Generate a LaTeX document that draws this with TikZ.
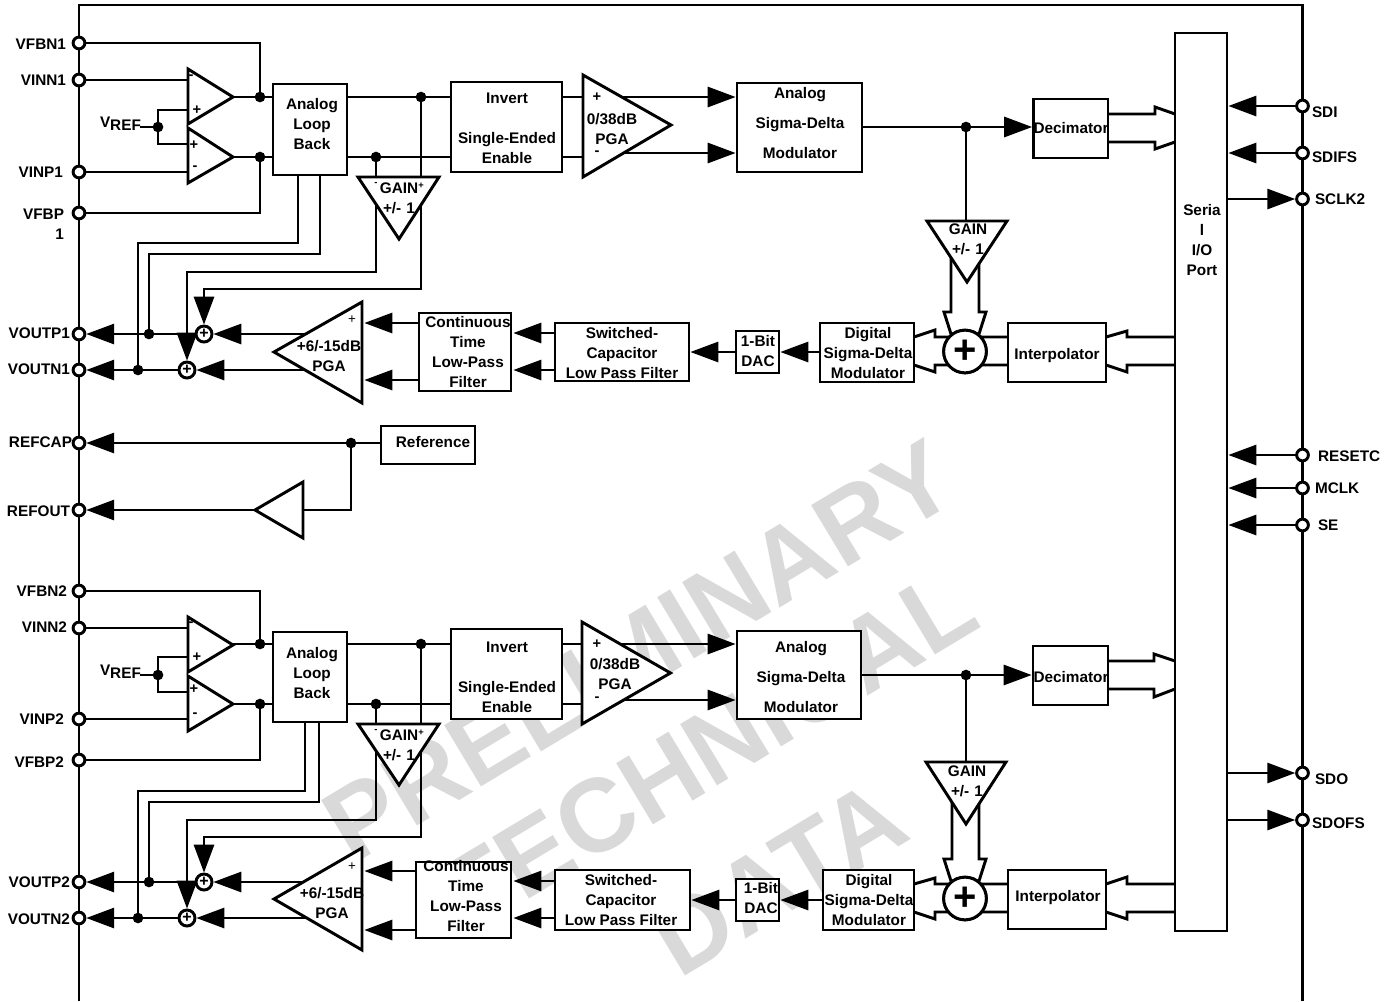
\documentclass[tikz,border=0pt]{standalone}
\usepackage{fontspec}
\setmainfont{Liberation Sans}
\usetikzlibrary{arrows.meta,calc}
\tikzset{
  wire/.style={line width=2.2pt,line join=miter},
  arr/.style={wire,-{Triangle[length=21pt,width=15pt]},shorten >=1pt},
  blockbox/.style={draw,fill=white,line width=2.2pt,inner sep=0pt,outer sep=0pt},
  tri/.style={draw,fill=white,line width=2.2pt,line join=miter},
  pin/.style={circle,draw,fill=white,line width=2.2pt,inner sep=0pt,outer sep=0pt,minimum size=8.8pt},
  dot/.style={circle,fill=black,inner sep=0pt,outer sep=0pt,minimum size=8pt},
  adder/.style={circle,draw,fill=white,line width=2.2pt,inner sep=0pt,outer sep=0pt,minimum size=12pt,font=\fontsize{12}{12}\selectfont\bfseries},
  bigadder/.style={circle,draw,fill=white,line width=2.2pt,inner sep=0pt,outer sep=0pt,minimum size=32pt,font=\fontsize{30}{30}\selectfont\bfseries},
  lbl/.style={inner sep=0pt,outer sep=0pt,align=center,font=\fontsize{11.5}{15}\selectfont\bfseries},
  lbll/.style={lbl,anchor=east},
  lblr/.style={lbl,anchor=west},
  sign/.style={inner sep=0pt,outer sep=0pt,font=\fontsize{11}{11}\selectfont\bfseries},
  tick/.style={inner sep=0pt,outer sep=0pt,font=\fontsize{7}{7}\selectfont\bfseries},
  thin sign/.style={inner sep=0pt,outer sep=0pt,font=\fontsize{10}{10}\selectfont},
  water/.style={inner sep=0pt,outer sep=0pt,text=black!15,rotate=31,font=\fontsize{78}{78}\selectfont\bfseries}
}
\newcommand\boxnode[5]{\pgfmathsetmacro\bxw{(#4-#2)*0.75}\pgfmathsetmacro\bxh{(#5-#3)*0.75}%
  \node[blockbox,minimum width=\bxw pt,minimum height=\bxh pt] (#1) at ({(#2+#4)/2},{(#3+#5)/2}) {};}
\begin{document}
\begin{tikzpicture}[x=0.75pt,y=-0.75pt]
\fill[white] (0,0) rectangle (1390,1001);
\useasboundingbox (0,0) rectangle (1390,1001);
% watermark
\node[water] (wm1) at (639,651) {PRELIMINARY};
\node[water] (wm2) at (708,750) {TECHNICAL};
\node[water] (wm3) at (778,878) {DATA};
% frame
\coordinate (fa) at (79,1001); \coordinate (fb) at (79,5); \coordinate (fc) at (1302.5,5); \coordinate (fd) at (1302.5,1001);
\draw[wire] (fa) -- (fb) -- (fc) -- (fd);
% pins left
\foreach \n/\y in {vfbn1/43,vinn1/80,vinp1/172,vfbp1/213,voutp1/334,voutn1/370,refcap/443,refout/510,vfbn2/591,vinn2/628,vinp2/719,vfbp2/760,voutp2/882,voutn2/918}
  \node[pin] (\n) at (79,\y) {};
% pins right
\foreach \n/\y in {sdi/106,sdifs/153,sclk2/199,resetc/455,mclk/488,se/525,sdo/773,sdofs/820}
  \node[pin] (\n) at (1302.5,\y) {};
% blocks, channel 1
\boxnode{alb1}{273}{84}{347}{175}
\boxnode{inv1}{451}{82}{562}{172}
\boxnode{asd1}{737}{83}{862}{172}
\boxnode{dec1}{1033.5}{99}{1108}{158}
\boxnode{ct1}{419}{313}{511}{391}
\boxnode{sc1}{555}{323}{689}{381}
\boxnode{dac1}{736}{331}{779}{373}
\boxnode{dsd1}{820}{323}{914}{382}
\boxnode{itp1}{1008}{323}{1106}{382}
% blocks, channel 2
\boxnode{alb2}{273}{632}{347}{722}
\boxnode{inv2}{451}{629}{562}{719}
\boxnode{asd2}{737}{631}{861}{719}
\boxnode{dec2}{1033}{646}{1108}{705}
\boxnode{ct2}{416}{862}{511}{938}
\boxnode{sc2}{555}{870}{690}{930}
\boxnode{dac2}{736}{879}{779}{921}
\boxnode{dsd2}{823}{870}{914}{930}
\boxnode{itp2}{1008}{870}{1106}{929}
% shared blocks
\boxnode{ref}{381}{426}{475}{464}
\boxnode{ser}{1175}{33}{1227}{931}
% adders
\node[adder] (addp1) at (204,334) {+};
\node[adder] (addn1) at (187,370) {+};
\node[adder] (addp2) at (204,882) {+};
\node[adder] (addn2) at (187,918) {+};
\node[bigadder] (sum1) at (965,351.5) {+};
\node[bigadder] (sum2) at (965,898.5) {+};
% junctions
\foreach \n/\x/\y in {j1/260/97,j2/260/157,j3/421/97,j4/376/157,j5/138/370,j6/149/334,j7/966/127,jv1/158/127,
  k1/260/644,k2/260/704,k3/421/644,k4/376/704,k5/138/918,k6/149/882,k7/966/675,kv1/158/675,jr/351/443}
  \node[dot] (\n) at (\x,\y) {};
% port coordinates, channel 1
\foreach \n/\x/\y in {oa1n/188/80,oa1p/188/110,oa1o/233/97,oa2p/188/144,oa2n/188/172,oa2o/233/157,
  c1/187/272,c2/204/289,c3/298/243,c4/138/243,c5/320/254,c6/149/254,
  pga1p/583/97,pga1n/583/157,pga1a/615/97,pga1b/615/153,
  ta1/512/333,ta2/512/370,tb1/363/323,tb2/363/380,tc1/305/334,tc2/305/370,
  g2t/966/221,vr1/140/127,rbi/303/510,rbo/255/510,
% channel 2
  ob1n/188/628,ob1p/188/657,ob1o/233/644,ob2p/188/692,ob2n/188/719,ob2o/233/704,
  d1/187/820,d2/204/837,d3/305/791,d4/138/791,d5/319/802,d6/149/802,
  pgb1p/583/644,pgb1n/583/704,pgb1a/615/644,pgb1b/615/700,
  ua1/512/881,ua2/512/918,ub1/363/871,ub2/363/930,uc1/305/882,uc2/305/918,
  h2t/966/762,vs1/140/675}
  \coordinate (\n) at (\x,\y);
% wires, channel 1
\draw[wire] (vfbn1.east) -| (j1);
\draw[wire] (vfbp1.east) -| (j2);
\draw[wire] (vinn1.east) -- (oa1n);
\draw[wire] (vinp1.east) -- (oa2n);
\draw[wire] (oa1o) -- (j1) -- (j1 -| alb1.west);
\draw[wire] (oa2o) -- (j2) -- (j2 -| alb1.west);
\draw[wire] (vr1) -- (jv1);
\draw[wire] (oa1p) -| (jv1) |- (oa2p);
\draw[wire] (j3 -| alb1.east) -- (j3) -- (j3 -| inv1.west);
\draw[wire] (j4 -| alb1.east) -- (j4) -- (j4 -| inv1.west);
\draw[wire] (inv1.east |- pga1p) -- (pga1p);
\draw[wire] (inv1.east |- pga1n) -- (pga1n);
\draw[arr] (j4) |- (c1) -- (addn1.north);
\draw[arr] (j3) |- (c2) -- (addp1.north);
\draw[wire] (alb1.south -| c3) -- (c3) -- (c4) -- (j5);
\draw[wire] (alb1.south -| c5) -- (c5) -- (c6) -- (j6);
\draw[arr] (pga1a) -- (asd1.west |- pga1a);
\draw[arr] (pga1b) -- (asd1.west |- pga1b);
\draw[wire] (asd1.east |- j7) -- (j7);
\draw[arr] (j7) -- (dec1.west |- j7);
\draw[wire] (j7) -- (g2t);
\draw[arr] (dsd1.west |- dac1.east) -- (dac1.east);
\draw[arr] (dac1.west) -- (sc1.east |- dac1.west);
\draw[arr] (sc1.west |- ta1) -- (ta1);
\draw[arr] (sc1.west |- ta2) -- (ta2);
\draw[arr] (ct1.west |- tb1) -- (tb1);
\draw[arr] (ct1.west |- tb2) -- (tb2);
\draw[arr] (tc1) -- (addp1.east);
\draw[arr] (tc2) -- (addn1.east);
\draw[arr] (addp1.west) -- (j6) -- (voutp1.east);
\draw[arr] (addn1.west) -- (j5) -- (voutn1.east);
% reference
\draw[arr] (ref.west |- jr) -- (jr) -- (refcap.east);
\draw[wire] (jr) |- (rbi);
\draw[arr] (rbo) -- (refout.east);
% wires, channel 2
\draw[wire] (vfbn2.east) -| (k1);
\draw[wire] (vfbp2.east) -| (k2);
\draw[wire] (vinn2.east) -- (ob1n);
\draw[wire] (vinp2.east) -- (ob2n);
\draw[wire] (ob1o) -- (k1) -- (k1 -| alb2.west);
\draw[wire] (ob2o) -- (k2) -- (k2 -| alb2.west);
\draw[wire] (vs1) -- (kv1);
\draw[wire] (ob1p) -| (kv1) |- (ob2p);
\draw[wire] (k3 -| alb2.east) -- (k3) -- (k3 -| inv2.west);
\draw[wire] (k4 -| alb2.east) -- (k4) -- (k4 -| inv2.west);
\draw[wire] (inv2.east |- pgb1p) -- (pgb1p);
\draw[wire] (inv2.east |- pgb1n) -- (pgb1n);
\draw[arr] (k4) |- (d1) -- (addn2.north);
\draw[arr] (k3) |- (d2) -- (addp2.north);
\draw[wire] (alb2.south -| d3) -- (d3) -- (d4) -- (k5);
\draw[wire] (alb2.south -| d5) -- (d5) -- (d6) -- (k6);
\draw[arr] (pgb1a) -- (asd2.west |- pgb1a);
\draw[arr] (pgb1b) -- (asd2.west |- pgb1b);
\draw[wire] (asd2.east |- k7) -- (k7);
\draw[arr] (k7) -- (dec2.west |- k7);
\draw[wire] (k7) -- (h2t);
\draw[arr] (dsd2.west |- dac2.east) -- (dac2.east);
\draw[arr] (dac2.west) -- (sc2.east |- dac2.west);
\draw[arr] (sc2.west |- ua1) -- (ua1);
\draw[arr] (sc2.west |- ua2) -- (ua2);
\draw[arr] (ct2.west |- ub1) -- (ub1);
\draw[arr] (ct2.west |- ub2) -- (ub2);
\draw[arr] (uc1) -- (addp2.east);
\draw[arr] (uc2) -- (addn2.east);
\draw[arr] (addp2.west) -- (k6) -- (voutp2.east);
\draw[arr] (addn2.west) -- (k5) -- (voutn2.east);
% right-hand pins
\foreach \n in {sdi,sdifs,resetc,mclk,se} \draw[arr] (\n.west) -- (ser.east |- \n);
\foreach \n in {sclk2,sdo,sdofs} \draw[arr] (ser.east |- \n) -- (\n.west);
% bus arrows, channel 1
\draw[wire] (dec1.east |- 0,114) -- (1155,114) -- (1155,107) -- (ser.west |- 0,114);
\draw[wire] (dec1.east |- 0,142) -- (1155,142) -- (1155,149) -- (ser.west |- 0,142);
\draw[wire] (ser.west |- 0,337) -- (1127,337) -- (1127,331) -- (itp1.east |- 0,337);
\draw[wire] (ser.west |- 0,365) -- (1127,365) -- (1127,372) -- (itp1.east |- 0,365);
\draw[wire] (itp1.west |- 0,337) -- (935,337) -- (935,330) -- (dsd1.east |- 0,337);
\draw[wire] (itp1.west |- 0,365) -- (935,365) -- (935,372) -- (dsd1.east |- 0,365);
\draw[wire] (951,250) -- (951,312) -- (944,312) -- (951,334);
\draw[wire] (979,250) -- (979,312) -- (986,312) -- (979,334);
% bus arrows, channel 2
\draw[wire] (dec2.east |- 0,661) -- (1154,661) -- (1154,654) -- (ser.west |- 0,661);
\draw[wire] (dec2.east |- 0,689) -- (1154,689) -- (1154,697) -- (ser.west |- 0,689);
\draw[wire] (ser.west |- 0,884) -- (1127,884) -- (1127,877) -- (itp2.east |- 0,884);
\draw[wire] (ser.west |- 0,912) -- (1127,912) -- (1127,919) -- (itp2.east |- 0,912);
\draw[wire] (itp2.west |- 0,884) -- (935,884) -- (935,878) -- (dsd2.east |- 0,884);
\draw[wire] (itp2.west |- 0,912) -- (935,912) -- (935,919) -- (dsd2.east |- 0,912);
\draw[wire] (952,795) -- (952,859) -- (944,859) -- (951,881);
\draw[wire] (979,795) -- (979,859) -- (986,859) -- (979,881);
% the big adders sit above the bus ends
\node[bigadder] (sumtop1) at (sum1) {+};
\node[bigadder] (sumtop2) at (sum2) {+};
% triangles
\draw[tri] (188,69) -- (188,124) -- (233,97) -- cycle;
\draw[tri] (188,128) -- (188,183) -- (233,157) -- cycle;
\draw[tri] (188,617) -- (188,672) -- (233,645) -- cycle;
\draw[tri] (188,676) -- (188,731) -- (233,704) -- cycle;
\draw[tri] (358,177) -- (439,177) -- (399,239) -- cycle;
\draw[tri] (358,724) -- (439,724) -- (399,785) -- cycle;
\draw[tri] (583,75) -- (583,177) -- (671,125) -- cycle;
\draw[tri] (582,622) -- (582,724) -- (670.5,673) -- cycle;
\draw[tri] (274,352) -- (362,302) -- (362,403) -- cycle;
\draw[tri] (274,899) -- (362,848) -- (362,950) -- cycle;
\draw[tri] (927,221) -- (1007,221) -- (967,282) -- cycle;
\draw[tri] (926,762) -- (1006,762) -- (966,824) -- cycle;
\draw[tri] (255,510) -- (303,482) -- (303,538) -- cycle;
% block texts, channel 1
\node[lbl] (talb1) at (312,124) {Analog\\Loop\\Back};
\node[lbl] (tinv1) at (507,128) {Invert\\[15pt]Single-Ended\\Enable};
\node[lbl] (tasd1) at (800,123) {Analog\\[7.5pt]Sigma-Delta\\[7.5pt]Modulator};
\node[lbl] (tdec1) at (1071,128) {Decimator};
\node[lbl] (tct1) at (468,352) {Continuous\\Time\\Low-Pass\\Filter};
\node[lbl] (tsc1) at (622,353) {Switched-\\Capacitor\\Low Pass Filter};
\node[lbl] (tdac1) at (758,351) {1-Bit\\DAC};
\node[lbl] (tdsd1) at (868,353) {Digital\\Sigma-Delta\\Modulator};
\node[lbl] (titp1) at (1057,356) {Interpolator};
\node[lbl] (tgain1) at (399,198) {GAIN\\+/-\,\,1};
\node[lbl] (tgain2) at (968,239) {GAIN\\+/-\,\,1};
\node[lbl] (tpgaa1) at (612,129.5) {0/38dB\\PGA};
\node[lbl] (tpgab1) at (329,356) {+6/-15dB\\PGA};
% block texts, channel 2
\node[lbl] (talb2) at (312,673) {Analog\\Loop\\Back};
\node[lbl] (tinv2) at (507,677.5) {Invert\\[15pt]Single-Ended\\Enable};
\node[lbl] (tasd2) at (801,677) {Analog\\[7.5pt]Sigma-Delta\\[7.5pt]Modulator};
\node[lbl] (tdec2) at (1071,677) {Decimator};
\node[lbl] (tct2) at (466,896) {Continuous\\Time\\Low-Pass\\Filter};
\node[lbl] (tsc2) at (621,900) {Switched-\\Capacitor\\Low Pass Filter};
\node[lbl] (tdac2) at (761,898) {1-Bit\\DAC};
\node[lbl] (tdsd2) at (869,900) {Digital\\Sigma-Delta\\Modulator};
\node[lbl] (titp2) at (1058,897.5) {Interpolator};
\node[lbl] (tgain3) at (399,745) {GAIN\\+/-\,\,1};
\node[lbl] (tgain4) at (967,781) {GAIN\\+/-\,\,1};
\node[lbl] (tpgaa2) at (615,674) {0/38dB\\PGA};
\node[lbl] (tpgab2) at (332,903) {+6/-15dB\\PGA};
% shared texts
\node[lbl] (tref) at (433,442) {Reference};
\node[lbl] (tser) at (1202,240) {Seria\\l\\I/O\\Port};
% signs
\foreach \n/\x/\y/\s in {sa/191/77/-,sb/197/110/+,sc/194/145/+,sd/195/168/-,se1/597/97/+,sf/597/153/-,
  sg/191/624/-,sh/197/657/+,si/194/689/+,sj/195/715/-,sk/597/644/+,sl/597/699/-}
  \node[sign] (\n) at (\x,\y) {\s};
\foreach \n/\x/\y/\s in {ta/376/184/-,tb/421/186/+,tc/376/731/-,td/421/733/+}
  \node[tick] (\n) at (\x,\y) {\s};
\node[thin sign] (pp1) at (352,320) {+};
\node[thin sign] (pp2) at (352,867) {+};
% VREF
\node[lbl,anchor=west] (vrt1) at (100,124) {V\raisebox{-2.5pt}{REF}};
\node[lbl,anchor=west] (vrt2) at (100,672) {V\raisebox{-2.5pt}{REF}};
% pin labels
\foreach \n/\x/\y/\s in {l1/66/44/VFBN1,l2/66/80/VINN1,l3/63/172/VINP1,l5/70/333/VOUTP1,l6/70/369/VOUTN1,l7/72/442/REFCAP,l8/70/511/REFOUT,
  l9/67/591/VFBN2,l10/67/627/VINN2,l11/64/719/VINP2,l12/64/762/VFBP2,l13/70/882/VOUTP2,l14/70/919/VOUTN2}
  \node[lbll] (\n) at (\x,\y) {\s};
\node[lbl,anchor=east,align=right] (l4) at (64,224) {VFBP\\1};
\foreach \n/\x/\y/\s in {r1/1312/112/SDI,r2/1312/157/SDIFS,r3/1315/199/SCLK2,r4/1318/456/RESETC,r5/1315/488/MCLK,r6/1318/525/SE,r7/1315/779/SDO,r8/1312/823/SDOFS}
  \node[lblr] (\n) at (\x,\y) {\s};
\end{tikzpicture}
\end{document}
